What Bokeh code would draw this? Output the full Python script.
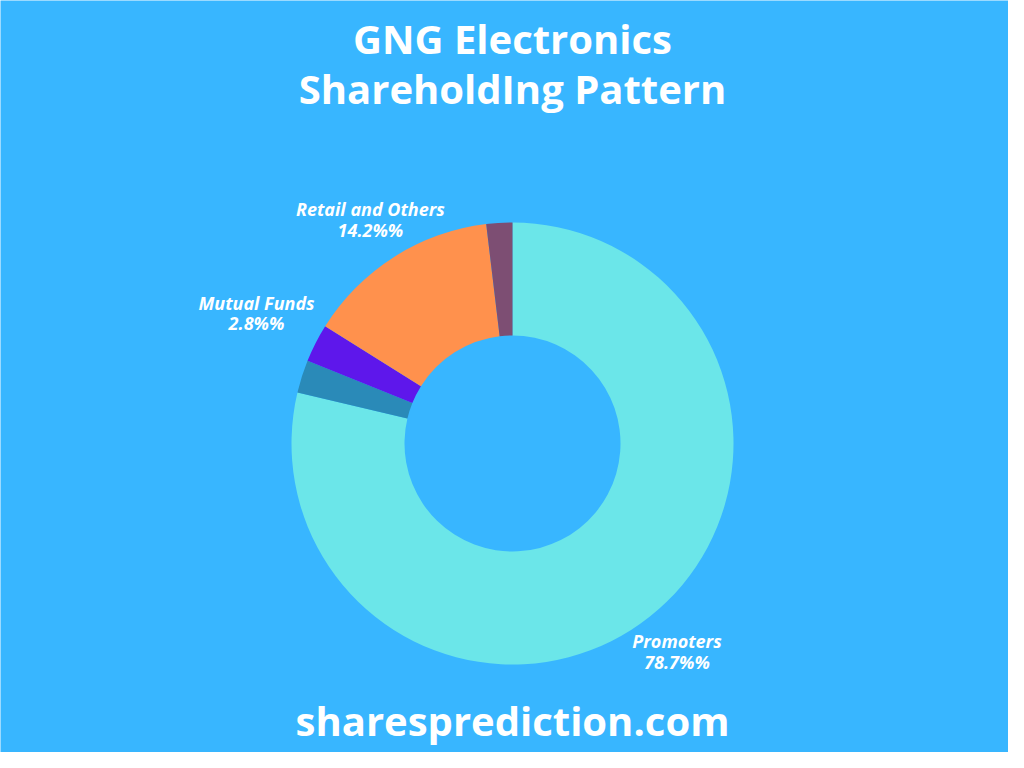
import math
from bokeh.plotting import figure
from bokeh.models import ColumnDataSource
from bokeh.core.properties import value
from bokeh.embed import file_html
from bokeh.resources import INLINE

# ---- data ----
categories = ["Promoters", "Foreign Institutions", "Mutual Funds", "Retail and Others", "Other Institutions"]
shares = [78.7, 2.4, 2.8, 14.2, 1.9]
colors = ["#6BE6E9", "#2A8AB8", "#5E17EB", "#FF914D", "#7D4E73"]
show_label = [True, False, True, True, False]

title_lines = ["GNG Electronics", "ShareholdIng Pattern"]
footer = "sharesprediction.com"

# ---- style ----
label_radius = [1.2, 1.2, 1.3, 1.2, 1.2]
BG = "#38B6FF"
W, H = 1008, 752
cx, cy = 512, 309
R_OUT, R_IN = 221, 108

p = figure(width=W, height=H, x_range=(0, W), y_range=(0, H),
           output_backend="svg", toolbar_location=None,
           background_fill_color=BG, border_fill_color=BG,
           min_border=0, outline_line_color=None)
p.axis.visible = False
p.grid.visible = False

total = sum(shares)
starts, ends, lx, ly, ltxt = [], [], [], [], []
cum = 0.0
for name, v, show, lr in zip(categories, shares, show_label, label_radius):
    a0 = math.pi / 2 - cum / total * 2 * math.pi
    cum += v
    a1 = math.pi / 2 - cum / total * 2 * math.pi
    starts.append(a0)
    ends.append(a1)
    if show:
        mid = (a0 + a1) / 2
        lx.append(cx + lr * R_OUT * math.cos(mid))
        ly.append(cy + lr * R_OUT * math.sin(mid))
        ltxt.append(f"{name}\n{v}%%")

src = ColumnDataSource(dict(start=starts, end=ends, color=colors, cat=categories))
p.annular_wedge(x=cx, y=cy, inner_radius=R_IN, outer_radius=R_OUT,
                start_angle="start", end_angle="end", direction="clock",
                fill_color="color", line_color=None, source=src)

p.text(x=lx, y=ly, text=ltxt, text_align="center", text_baseline="middle",
       text_color="white", text_font=value("Open Sans"),
       text_font_style="bold italic", text_font_size="18px", text_line_height=0.86)

p.text(x=[512, 512], y=[714, 664], text=title_lines, text_align="center",
       text_baseline="middle", text_color="white", text_font=value("Open Sans"),
       text_font_style="bold", text_font_size="40px")

p.text(x=[512], y=[32], text=[footer], text_align="center",
       text_baseline="middle", text_color="white", text_font=value("Open Sans"),
       text_font_style="bold", text_font_size="40px")

open("out.html", "w").write(file_html(p, INLINE))
